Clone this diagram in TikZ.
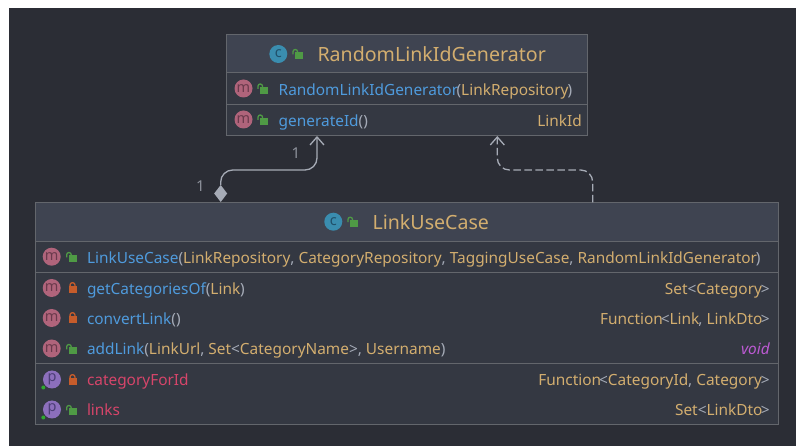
\documentclass[tikz,border=0pt]{standalone}
\usepackage{fontspec}
\setmainfont{Noto Sans}
\usetikzlibrary{arrows.meta,shapes.geometric}

\definecolor{bgdark}{HTML}{2B2D35}
\definecolor{rowfill}{HTML}{343842}
\definecolor{headfill}{HTML}{3F4451}
\definecolor{edgegray}{HTML}{63666C}
\definecolor{linkgray}{HTML}{A6ABB6}
\definecolor{typetan}{HTML}{D3AE6F}
\definecolor{nameblue}{HTML}{4F9BDD}
\definecolor{fieldred}{HTML}{D6456A}
\definecolor{voidpurple}{HTML}{BC5AD3}
\definecolor{punctgray}{HTML}{A5ABB7}
\definecolor{lockgreen}{HTML}{4F9A45}
\definecolor{lockorange}{HTML}{C65C2B}
\definecolor{classbadge}{HTML}{3A8DAF}
\definecolor{classletter}{HTML}{20506A}
\definecolor{methodbadge}{HTML}{B0647B}
\definecolor{methodletter}{HTML}{6A3A4C}
\definecolor{propbadge}{HTML}{8C6FBC}
\definecolor{propletter}{HTML}{4C3E76}
\definecolor{dotgreen}{HTML}{2FA82F}

\newcommand{\mname}[1]{\textcolor{nameblue}{#1}}
\newcommand{\ptype}[1]{\textcolor{typetan}{#1}}
\newcommand{\punct}[1]{\textcolor{punctgray}{#1}}

\tikzset{
    part/.style={draw=edgegray, line width=1pt, anchor=north west, inner sep=0pt, outer sep=0pt, rectangle},
    headpart/.style={part, fill=headfill},
    rowpart/.style={part, fill=rowfill},
    title/.style={anchor=base, inner sep=0pt, text=typetan, font=\fontsize{19.6}{22}\selectfont},
    rowleft/.style={anchor=base west, inner sep=0pt, font=\fontsize{15.4}{18}\selectfont},
    rowright/.style={anchor=base east, inner sep=0pt, font=\fontsize{15.4}{18}\selectfont},
    badge/.style={circle, minimum size=18pt, inner sep=0pt, font=\fontsize{14.5}{14.5}\selectfont},
    openlock/.pic={
        \fill[lockgreen] (-3,-1.5) rectangle (5,5.5);
        \draw[lockgreen, line width=1.3pt, rounded corners=2.2pt] (-5,0.5) -- (-5,-4.5) -- (-0.5,-4.5) -- (-0.5,-1);
    },
    closedlock/.pic={
        \fill[lockorange] (-4,-1.5) rectangle (4,5);
        \draw[lockorange, line width=1.3pt, rounded corners=2pt] (-2.4,-1.5) -- (-2.4,-5.2) -- (2.4,-5.2) -- (2.4,-1.5);
    },
    link/.style={draw=linkgray, line width=1.3pt, rounded corners=12pt},
    openhead/.style={-{Straight Barb[length=8pt,width=14pt]}},
}

\begin{document}
\begin{tikzpicture}[x=1pt,y=-1pt]
    % Page and background
    \useasboundingbox (0,0) rectangle (796,446);
    \fill[white] (0,0) rectangle (796,446);
    \fill[bgdark] (9,8) rectangle (796,446);

    % Upper class
    \node[headpart, minimum width=360.5pt, minimum height=38.5pt] (genhead) at (226.5,34.5) {};
    \node[rowpart, minimum width=360.5pt, minimum height=31.5pt] (genctor) at (genhead.south west) {};
    \node[rowpart, minimum width=360.5pt, minimum height=31.5pt] (genmethods) at (genctor.south west) {};

    % Lower class
    \node[headpart, minimum width=743pt, minimum height=39pt] (luchead) at (35.5,202.5) {};
    \node[rowpart, minimum width=743pt, minimum height=31pt] (lucctor) at (luchead.south west) {};
    \node[rowpart, minimum width=743pt, minimum height=91.5pt] (lucmethods) at (lucctor.south west) {};
    \node[rowpart, minimum width=743pt, minimum height=61pt] (lucfields) at (lucmethods.south west) {};

    % Titles
    \node[title] (gentitle) at (431.7,61.3) {RandomLinkIdGenerator};
    \node[title] (luctitle) at (430.8,229.3) {LinkUseCase};

    % Class badges
    \foreach \x/\y in {278.3/54,333.3/221.7} {
        \node[badge, fill=classbadge, text=classletter] (c\x) at (\x,\y) {c};
    }
    % Method badges
    \foreach \x/\y in {243.5/88.5,243.5/119.5,51.7/256.7,51.7/288,51.7/318,51.7/348.5} {
        \node[badge, fill=methodbadge, text=methodletter] (m\x-\y) at (\x,\y) {m};
    }
    % Property badges with their green dots
    \foreach \y in {379.5,409.5} {
        \node[badge, fill=propbadge, text=propletter] (p\y) at (52,\y) {p};
        \fill[dotgreen] (43.3,\y+8) circle (2pt);
    }

    % Locks
    \foreach \x/\y in {298/54,353/221.7,263/88.5,263/119.5,71.7/257,71.7/349} {
        \pic at (\x,\y) {openlock};
    }
    \foreach \y in {288,318,380} {
        \pic at (72.5,\y) {closedlock};
    }
    \pic at (71.7,410) {openlock};

    % Upper class rows
    \node[rowleft] (genctorname) at (278.5,95.5) {\mname{RandomLinkIdGenerator}\kern-1.5pt\punct{(}\ptype{LinkRepository}\kern-1pt\punct{)}};
    \node[rowleft] (genname) at (278.5,126.5) {\mname{generateId}\punct{()}};
    \node[rowright] (gentype) at (582,126.5) {\ptype{LinkId}};

    % Lower class rows
    \node[rowleft] (lucctorname) at (86.8,263.3) {\mname{LinkUseCase}\punct{(}\ptype{LinkRepository}\punct{,} \ptype{CategoryRepository}\punct{,} \ptype{TaggingUseCase}\punct{,} \ptype{RandomLinkIdGenerator}\kern-1pt\punct{)}};
    \node[rowleft] (lucgetname) at (86.8,294.5) {\mname{getCategoriesOf}\punct{(}\ptype{Link}\punct{)}};
    \node[rowright] (lucgettype) at (770,294.5) {\ptype{Set}\punct{<}\ptype{Category}\kern-1pt\punct{>}};
    \node[rowleft] (lucconvname) at (86.8,324.5) {\mname{convertLink}\punct{()}};
    \node[rowright] (lucconvtype) at (770,324.5) {\ptype{Function}\kern-2pt\punct{<}\ptype{Link}\kern-1pt\punct{,} \ptype{LinkDto}\kern-1.5pt\punct{>}};
    \node[rowleft] (lucaddname) at (86.8,354.5) {\mname{addLink}\punct{(}\ptype{LinkUrl}\punct{,} \ptype{Set}\punct{<}\ptype{CategoryName}\punct{>,} \ptype{Username}\punct{)}};
    \node[rowright] (lucaddtype) at (770,354.5) {\textcolor{voidpurple}{\itshape void}};
    \node[rowleft, text=fieldred] (luccatname) at (86.8,385.5) {categoryForId};
    \node[rowright] (luccattype) at (770,385.5) {\ptype{Function}\kern-2pt\punct{<}\ptype{CategoryId}\punct{,} \ptype{Category}\kern-1pt\punct{>}};
    \node[rowleft, text=fieldred] (luclinksname) at (86.8,415.5) {links};
    \node[rowright] (luclinkstype) at (770,415.5) {\ptype{Set}\punct{<}\ptype{LinkDto}\kern-1.5pt\punct{>}};

    % Connectors
    \node[diamond, fill=linkgray, minimum width=13pt, minimum height=17pt, inner sep=0pt, outer sep=0pt] (owner) at (220.7,193.5) {};
    \coordinate (ownerbend) at (317,170);
    \coordinate (ownerend) at (genmethods.south -| ownerbend);
    \draw[link, openhead] (owner.north) |- (ownerbend) -- (ownerend);
    \coordinate (implstart) at (luchead.north -| 592.7,0);
    \coordinate (implbend) at (497.3,170);
    \coordinate (implend) at (genmethods.south -| implbend);
    \draw[link, openhead, dash pattern=on 7.5pt off 3.5pt] (implstart) |- (implbend) -- (implend);

    % Multiplicities
    \node[text=linkgray!85!black, font=\fontsize{15}{16}\selectfont, inner sep=0pt] (ownercount) at (296,153.5) {1};
    \node[text=linkgray!85!black, font=\fontsize{15}{16}\selectfont, inner sep=0pt] (partcount) at (200.5,186.5) {1};
\end{tikzpicture}
\end{document}
